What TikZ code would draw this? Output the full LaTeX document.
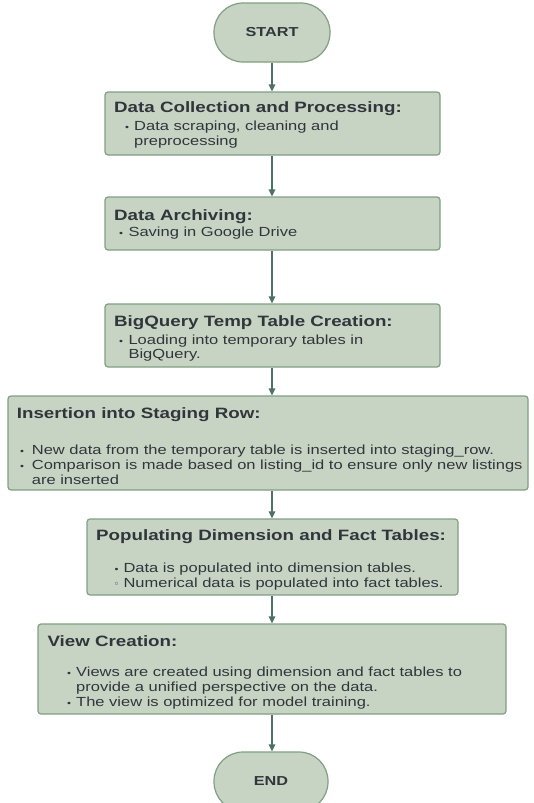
\documentclass[tikz,border=0pt]{standalone}
\usepackage{fontspec}
\usetikzlibrary{arrows.meta}
\newfontfamily\lsans[FakeStretch=1.25]{Liberation Sans}
\newfontfamily\dvs{DejaVu Sans}
\definecolor{boxfill}{HTML}{C8D4C3}
\definecolor{boxline}{HTML}{7FA082}
\definecolor{arrowc}{HTML}{4E7266}
\definecolor{txt}{HTML}{2F363C}
\newcommand{\ttlfont}{\lsans\bfseries\fontsize{15}{18}\selectfont}
\newcommand{\bdyfont}{\lsans\fontsize{13.2}{15}\selectfont}
\newcommand{\termfont}{\lsans\bfseries\fontsize{13}{15}\selectfont}
\tikzset{
  box/.style={draw=boxline, fill=boxfill, line width=1.2pt, rounded corners=3pt, inner sep=0pt},
  term/.style={draw=boxline, fill=boxfill, line width=1.2pt, inner sep=0pt, font=\termfont, text=txt},
  ttl/.style={font=\ttlfont, text=txt, anchor=base west, inner sep=0pt},
  bdy/.style={font=\bdyfont, text=txt, anchor=base west, inner sep=0pt},
  bul/.style={font=\lsans\fontsize{9}{9}\selectfont, text=txt, anchor=base west, inner sep=0pt},
  hbul/.style={font=\dvs\fontsize{10}{10}\selectfont, text=txt, anchor=base west, inner sep=0pt},
  arr/.style={draw=arrowc, line width=1.5pt, -{Triangle[width=6.5pt,length=7pt]}}
}
\begin{document}
\begin{tikzpicture}[x=1pt,y=-1pt]
\useasboundingbox (0,0) rectangle (533,803);
% terminals
\node[term, minimum width=116pt, minimum height=59pt, rounded corners=29pt] (start) at (272,32.5) {START};
\node[term, minimum width=114pt, minimum height=59pt, rounded corners=29pt] (end) at (271,781.5) {END};
% boxes
\node[box, minimum width=335pt, minimum height=63pt] (b1) at (272.5,123.5) {};
\node[box, minimum width=335pt, minimum height=53pt] (b2) at (272.5,223.5) {};
\node[box, minimum width=335pt, minimum height=63pt] (b3) at (272.5,335.5) {};
\node[box, minimum width=520pt, minimum height=94pt] (b4) at (268,443) {};
\node[box, minimum width=371pt, minimum height=76pt] (b5) at (272.5,557) {};
\node[box, minimum width=468pt, minimum height=90pt] (b6) at (272,669) {};
% arrows (all on the vertical through start)
\coordinate (axis) at (start.south);
\draw[arr] (start.south) -- (axis |- b1.north);
\draw[arr] (axis |- b1.south) -- (axis |- b2.north);
\draw[arr] (axis |- b2.south) -- (axis |- b3.north);
\draw[arr] (axis |- b3.south) -- (axis |- b4.north);
\draw[arr] (axis |- b4.south) -- (axis |- b5.north);
\draw[arr] (axis |- b5.south) -- (axis |- b6.north);
\draw[arr] (axis |- b6.south) -- (axis |- end.north);
% box 1
\node[ttl] (t1) at (114,112.7) {Data Collection and Processing:};
\node[bul] (u1a) at (125,130.3) {•};
\node[bdy] (l1a) at (134,130.3) {Data scraping, cleaning and};
\node[bdy] (l1b) at (134,145.3) {preprocessing};
% box 2
\node[ttl] (t2) at (114,220.7) {Data Archiving:};
\node[bul] (u2a) at (119,236.7) {•};
\node[bdy] (l2a) at (128.3,236.7) {Saving in Google Drive};
% box 3
\node[ttl] (t3) at (114,326.7) {BigQuery Temp Table Creation:};
\node[bul] (u3a) at (119,344) {•};
\node[bdy] (l3a) at (128.3,344) {Loading into temporary tables in};
\node[bdy] (l3b) at (128.3,358.3) {BigQuery.};
% box 4
\node[ttl] (t4) at (16.7,418.3) {Insertion into Staging Row:};
\node[bul] (u4a) at (20,454) {•};
\node[bdy] (l4a) at (31.7,454) {New data from the temporary table is inserted into staging\_row.};
\node[bul] (u4b) at (20,469) {•};
\node[bdy] (l4b) at (31.7,469) {Comparison is made based on listing\_id to ensure only new listings};
\node[bdy] (l4c) at (31.7,484) {are inserted};
% box 5
\node[ttl] (t5) at (96,540.7) {Populating Dimension and Fact Tables:};
\node[bul] (u5a) at (114.5,572.7) {•};
\node[bdy] (l5a) at (123.3,572.7) {Data is populated into dimension tables.};
\node[hbul] (u5b) at (113.5,587.3) {◦};
\node[bdy] (l5b) at (123.3,587.3) {Numerical data is populated into fact tables.};
% box 6
\node[ttl] (t6) at (47.3,646) {View Creation:};
\node[bul] (u6a) at (67,676.7) {•};
\node[bdy] (l6a) at (76,676.7) {Views are created using dimension and fact tables to};
\node[bdy] (l6b) at (76,691.7) {provide a unified perspective on the data.};
\node[bul] (u6b) at (67,706.7) {•};
\node[bdy] (l6c) at (76,706.7) {The view is optimized for model training.};
\end{tikzpicture}
\end{document}
